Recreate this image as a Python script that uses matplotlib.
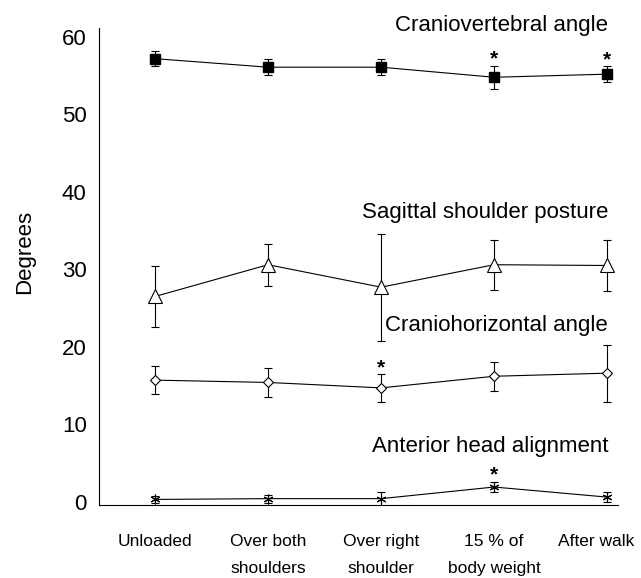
import matplotlib
matplotlib.use('Agg')
import matplotlib.pyplot as plt
from matplotlib.transforms import ScaledTranslation

plt.rcParams['font.family'] = ['Liberation Sans', 'DejaVu Sans']

conditions = ['Unloaded', 'Over both\nshoulders', 'Over right\nshoulder',
              '15 % of\nbody weight', 'After walk']
xpos = [1, 2, 3, 4, 5]

cv_mean = [57.2, 56.1, 56.1, 54.8, 55.2]
cv_err = [1.0, 1.0, 1.0, 1.5, 1.0]
ssp_mean = [26.5, 30.6, 27.7, 30.6, 30.5]
ssp_err = [3.9, 2.7, 6.9, 3.2, 3.3]
ch_mean = [15.7, 15.4, 14.7, 16.2, 16.6]
ch_err = [1.85, 1.9, 1.8, 1.85, 3.7]
ah_mean = [0.3, 0.4, 0.4, 1.9, 0.6]
ah_err = [0.4, 0.5, 0.9, 0.7, 0.65]

series_names = ['Craniovertebral angle', 'Sagittal shoulder posture',
                'Craniohorizontal angle', 'Anterior head alignment']
label_y = [61.5, 37.4, 22.7, 7.1]

# significance stars: (series mean list, error list, index)
stars = [(cv_mean, cv_err, 3), (cv_mean, cv_err, 4),
         (ch_mean, ch_err, 2), (ah_mean, ah_err, 3)]

fig = plt.figure(figsize=(6.41, 5.78), dpi=100)
ax = fig.add_axes([0.1537, 0.1263, 0.8105, 0.8258])

kw = dict(color='black', lw=0.8, elinewidth=0.8, capsize=2.7, capthick=0.8)
ax.errorbar(xpos, cv_mean, yerr=cv_err, fmt='-s', ms=7, mfc='black', mec='black', **kw)
ax.errorbar(xpos, ssp_mean, yerr=ssp_err, fmt='-^', ms=10, mfc='white', mec='black', mew=0.8, **kw)
ax.errorbar(xpos, ch_mean, yerr=ch_err, fmt='-D', ms=5.5, mfc='white', mec='black', mew=0.8, **kw)
ax.errorbar(xpos, ah_mean, yerr=ah_err, fmt='-', marker=(6, 2, 0), ms=7, mec='black', mew=0.8, **kw)

for name, ly in zip(series_names, label_y):
    ax.text(5.01, ly, name, ha='right', va='center', fontsize=16)

for m, e, i in stars:
    ax.text(xpos[i], m[i] + e[i] + 0.1, '*', ha='center', va='baseline',
            fontsize=15, fontweight='bold')

ax.set_xlim(0.5, 5.097)
ax.set_ylim(-0.42, 61.2)
ax.set_yticks([0, 10, 20, 30, 40, 50, 60])
ax.set_xticks(xpos)
ax.set_xticklabels(conditions, fontsize=12.5, linespacing=2.0)
ax.tick_params(axis='both', length=0)
ax.tick_params(axis='y', labelsize=16, pad=8.5)
ax.tick_params(axis='x', pad=21)
ax.set_ylabel('Degrees', fontsize=16)
ax.yaxis.set_label_coords(-0.122, 0.53)
for s in ['top', 'right']:
    ax.spines[s].set_visible(False)
ax.spines['left'].set_linewidth(0.8)
ax.spines['bottom'].set_linewidth(0.8)

# last label sits a little left so it stays inside the figure
last = ax.get_xticklabels()[-1]
last.set_transform(last.get_transform() + ScaledTranslation(-8 / 72, 0, fig.dpi_scale_trans))

fig.savefig('out.png', dpi=100)
